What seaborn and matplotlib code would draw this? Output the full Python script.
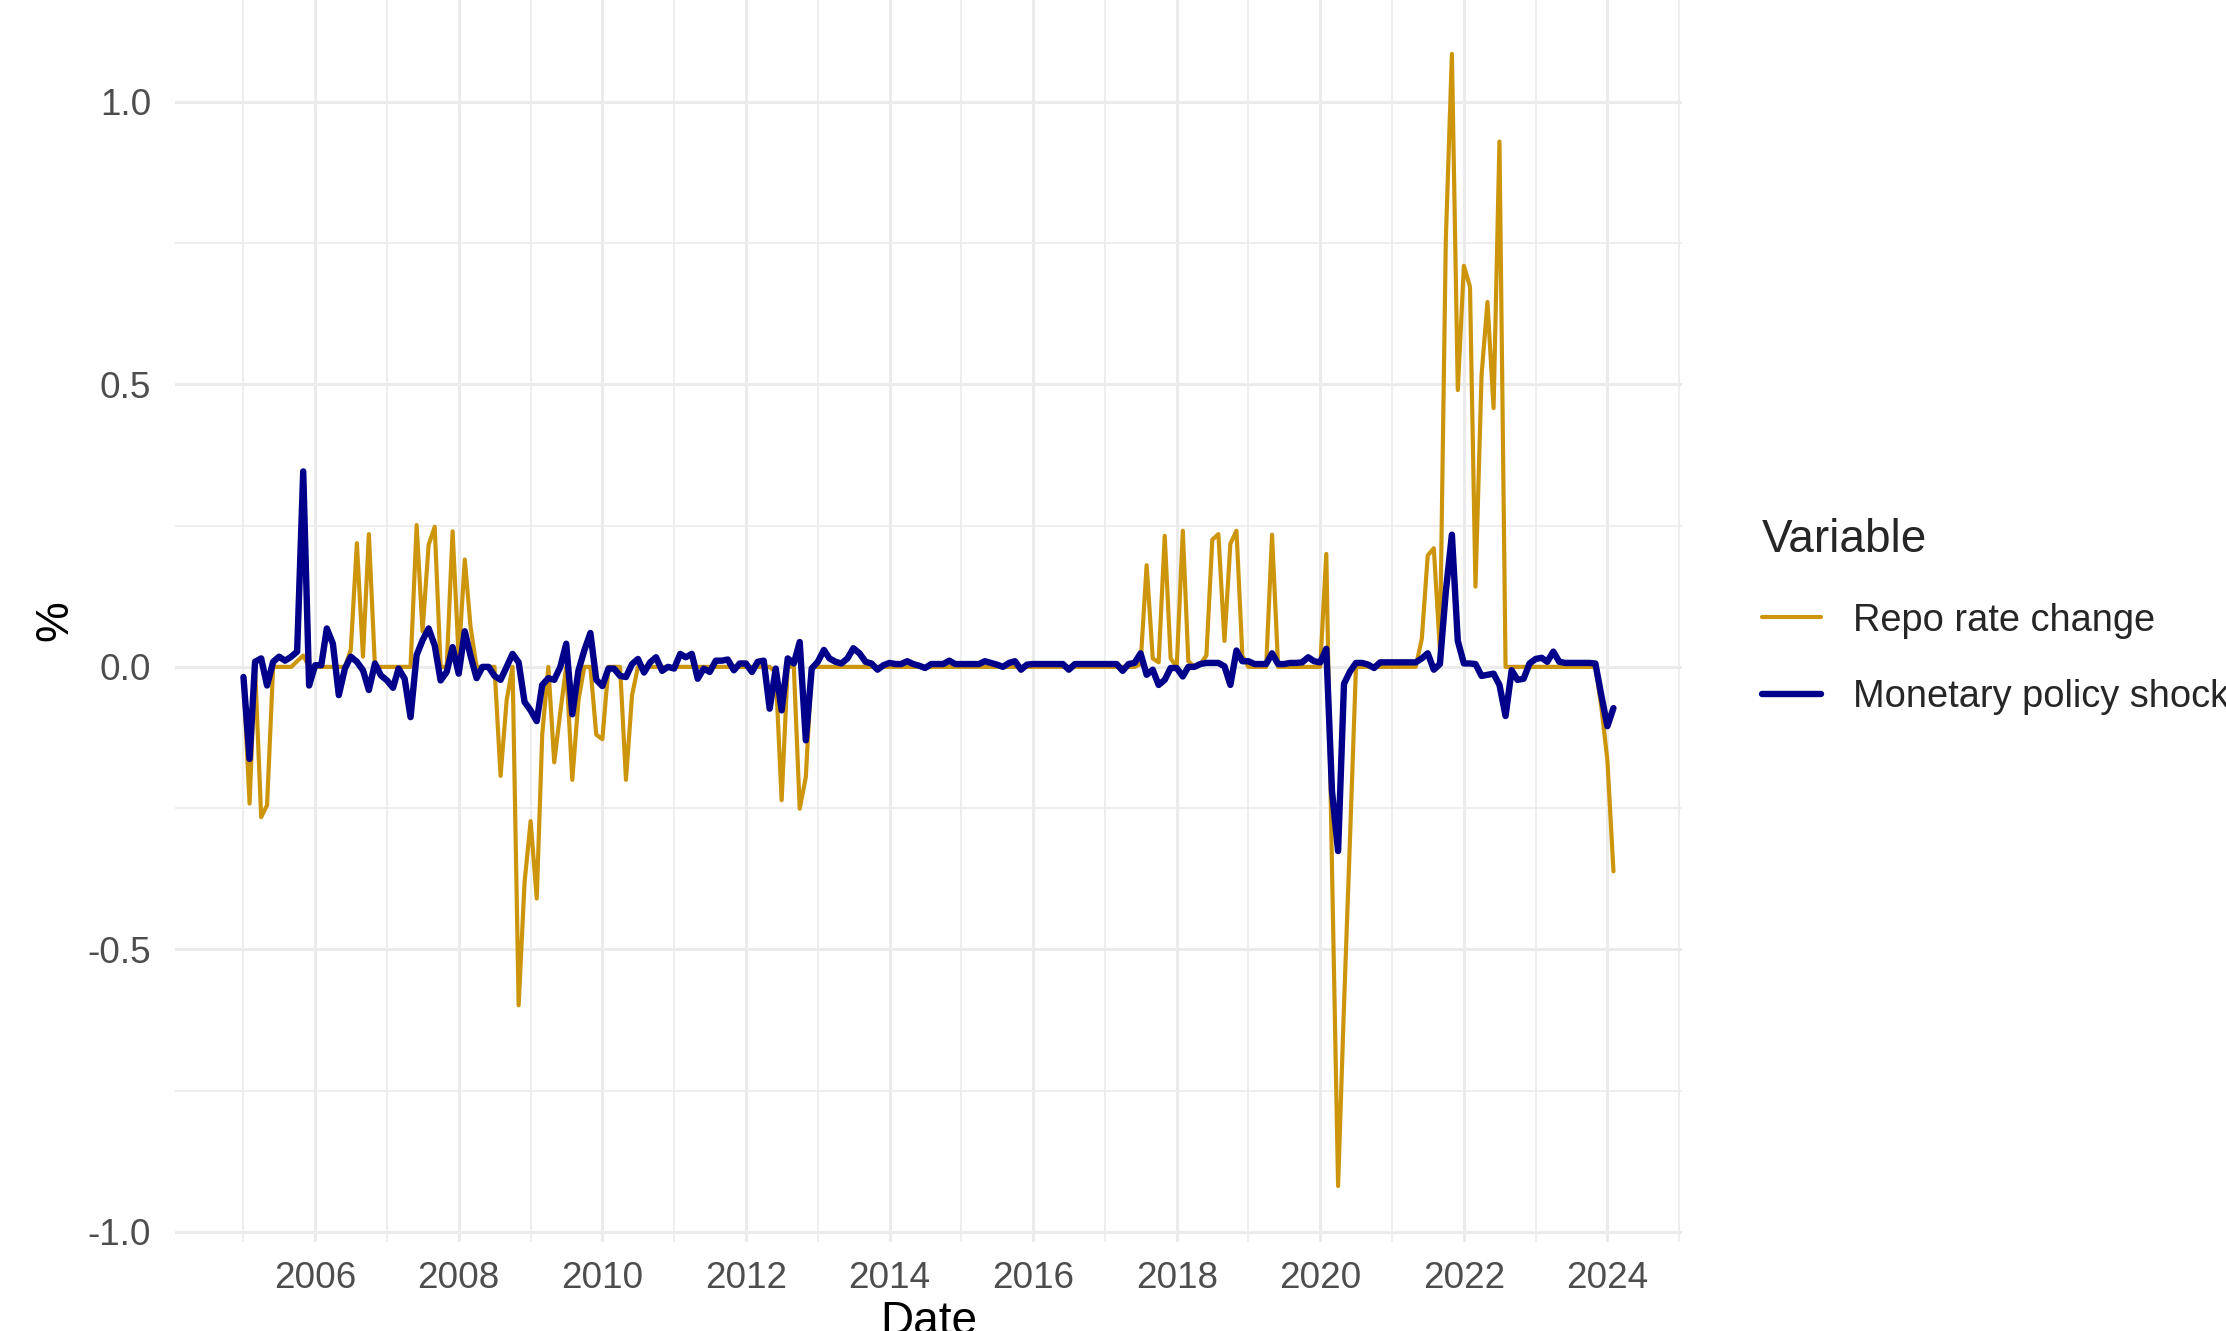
import pandas as pd
import matplotlib
matplotlib.use('Agg')
import matplotlib.pyplot as plt
import matplotlib.dates as mdates
from matplotlib.ticker import MultipleLocator, FormatStrFormatter
import seaborn as sns

# Monthly observations, Jan 2005 - Feb 2024 (one row of the list = one year)
start_month = '2005-01-01'

repo_rate_change = [
    -0.02, -0.242, 0.0, -0.266, -0.245, 0.0, 0.0, 0.0, 0.0, 0.01, 0.02, 0.0,          # 2005
    0.0, 0.0, 0.0, 0.0, 0.0, 0.0, 0.03, 0.219, 0.018, 0.235, 0.0, 0.0,                # 2006
    0.0, 0.0, 0.0, 0.0, 0.0, 0.251, 0.063, 0.216, 0.248, 0.0, 0.0, 0.24,              # 2007
    0.015, 0.19, 0.072, 0.0, 0.0, 0.0, 0.0, -0.193, -0.059, 0.0, -0.599, -0.382,      # 2008
    -0.273, -0.41, -0.12, 0.0, -0.169, -0.08, 0.0, -0.2, -0.06, 0.0, 0.0, -0.12,      # 2009
    -0.128, 0.0, 0.0, 0.0, -0.2, -0.05, 0.0, 0.0, 0.0, 0.0, 0.0, 0.0,                 # 2010
    0.0, 0.0, 0.0, 0.0, 0.0, 0.0, 0.0, 0.0, 0.0, 0.0, 0.0, 0.0,                       # 2011
    0.0, 0.0, 0.0, 0.0, 0.0, -0.01, -0.236, 0.0, 0.0, -0.251, -0.195, 0.0,            # 2012
    0.0, 0.0, 0.0, 0.0, 0.0, 0.0, 0.0, 0.0, 0.0, 0.0, 0.0, 0.0,                       # 2013
    0.0, 0.0, 0.0, 0.0, 0.0, 0.0, 0.0, 0.0, 0.0, 0.0, 0.0, 0.0,                       # 2014
    0.0, 0.0, 0.0, 0.0, 0.0, 0.0, 0.0, 0.0, 0.0, 0.0, 0.0, 0.0,                       # 2015
    0.0, 0.0, 0.0, 0.0, 0.0, 0.0, 0.0, 0.0, 0.0, 0.0, 0.0, 0.0,                       # 2016
    0.0, 0.0, 0.0, 0.0, 0.0, 0.0, 0.005, 0.18, 0.015, 0.008, 0.232, 0.015,            # 2017
    0.0, 0.241, 0.01, 0.0, 0.005, 0.02, 0.225, 0.235, 0.046, 0.218, 0.241, 0.02,      # 2018
    0.0, 0.0, 0.0, 0.0, 0.234, 0.0, 0.0, 0.0, 0.0, 0.0, 0.0, 0.0,                     # 2019
    0.0, 0.2, -0.355, -0.919, -0.6, -0.3, 0.0, 0.0, 0.0, 0.0, 0.0, 0.0,               # 2020
    0.0, 0.0, 0.0, 0.0, 0.0, 0.05, 0.197, 0.21, 0.03, 0.755, 1.085, 0.49,             # 2021
    0.71, 0.673, 0.142, 0.517, 0.646, 0.458, 0.93, 0.0, 0.0, 0.0, 0.0, 0.0,           # 2022
    0.0, 0.0, 0.0, 0.0, 0.0, 0.0, 0.0, 0.0, 0.0, 0.0, 0.0, -0.07,                     # 2023
    -0.165, -0.362,                                                                   # 2024
]

policy_shock = [
    -0.018, -0.163, 0.009, 0.015, -0.033, 0.009, 0.018, 0.011, 0.018, 0.027, 0.346, -0.033,   # 2005
    0.003, 0.003, 0.068, 0.041, -0.05, -0.003, 0.018, 0.009, -0.006, -0.041, 0.006, -0.015,   # 2006
    -0.024, -0.037, -0.003, -0.021, -0.089, 0.021, 0.047, 0.068, 0.038, -0.024, -0.009, 0.035,  # 2007
    -0.012, 0.063, 0.02, -0.02, 0.0, 0.0, -0.016, -0.023, 0.0, 0.023, 0.008, -0.062,         # 2008
    -0.077, -0.096, -0.032, -0.02, -0.023, 0.0, 0.041, -0.084, -0.007, 0.029, 0.06, -0.023,   # 2009
    -0.034, -0.003, -0.003, -0.016, -0.018, 0.005, 0.014, -0.01, 0.008, 0.017, -0.007, 0.0,   # 2010
    -0.003, 0.023, 0.017, 0.023, -0.021, -0.003, -0.009, 0.011, 0.011, 0.013, -0.006, 0.006,  # 2011
    0.006, -0.009, 0.009, 0.011, -0.074, -0.003, -0.077, 0.015, 0.006, 0.044, -0.13, -0.003,  # 2012
    0.009, 0.03, 0.015, 0.009, 0.006, 0.015, 0.033, 0.024, 0.009, 0.006, -0.005, 0.003,      # 2013
    0.007, 0.005, 0.005, 0.01, 0.005, 0.002, -0.002, 0.005, 0.005, 0.005, 0.011, 0.005,      # 2014
    0.005, 0.005, 0.005, 0.005, 0.01, 0.007, 0.004, 0.0, 0.007, 0.01, -0.005, 0.004,         # 2015
    0.005, 0.005, 0.005, 0.005, 0.005, 0.005, -0.005, 0.005, 0.005, 0.005, 0.005, 0.005,     # 2016
    0.005, 0.005, 0.005, -0.007, 0.005, 0.007, 0.024, -0.014, -0.005, -0.032, -0.023, -0.002,  # 2017
    -0.002, -0.017, 0.0, 0.0, 0.005, 0.007, 0.007, 0.007, 0.001, -0.032, 0.029, 0.01,       # 2018
    0.01, 0.005, 0.005, 0.005, 0.024, 0.005, 0.005, 0.007, 0.007, 0.008, 0.017, 0.01,       # 2019
    0.008, 0.032, -0.22, -0.326, -0.03, -0.008, 0.007, 0.007, 0.004, -0.002, 0.008, 0.008,   # 2020
    0.008, 0.008, 0.008, 0.008, 0.008, 0.015, 0.024, -0.005, 0.005, 0.133, 0.234, 0.046,    # 2021
    0.006, 0.006, 0.005, -0.016, -0.014, -0.012, -0.032, -0.087, -0.006, -0.023, -0.021, 0.006,  # 2022
    0.014, 0.016, 0.009, 0.027, 0.009, 0.007, 0.007, 0.007, 0.007, 0.007, 0.006, -0.05,     # 2023
    -0.105, -0.073,                                                                          # 2024
]

series_names = ['Repo rate change', 'Monetary policy shock']
series_colors = ['#CD950C', '#00008B']
series_widths = [1.5, 2.3]

dates = pd.date_range(start_month, periods=len(repo_rate_change), freq='MS')
df = pd.DataFrame({'Date': dates,
                   'Repo rate change': repo_rate_change,
                   'Monetary policy shock': policy_shock})
long_df = df.melt(id_vars='Date', var_name='Variable', value_name='value')

sns.set_style('white')
plt.rcParams['font.family'] = ['Liberation Sans', 'DejaVu Sans']
plt.rcParams['axes.unicode_minus'] = False

fig = plt.figure(figsize=(11.13, 6.655), dpi=200)
ax = fig.add_axes([0.0786, 0.0669, 0.677, 0.9331])

sns.lineplot(data=long_df, x='Date', y='value', hue='Variable', size='Variable',
             hue_order=series_names, size_order=series_names,
             palette=dict(zip(series_names, series_colors)),
             sizes=dict(zip(series_names, series_widths)),
             errorbar=None, ax=ax)

# ggplot-like expansion of 5% on the date axis
span = dates[-1] - dates[0]
ax.set_xlim(dates[0] - span * 0.05, dates[-1] + span * 0.05)
ax.set_ylim(-1.018, 1.1805)

ax.xaxis.set_major_locator(mdates.YearLocator(2))
ax.xaxis.set_minor_locator(mdates.YearLocator(1))
ax.xaxis.set_major_formatter(mdates.DateFormatter('%Y'))
ax.yaxis.set_major_locator(MultipleLocator(0.5))
ax.yaxis.set_minor_locator(MultipleLocator(0.25))
ax.yaxis.set_major_formatter(FormatStrFormatter('%.1f'))

ax.set_axisbelow(True)
ax.grid(which='major', color='#EBEBEB', linewidth=1.1)
ax.grid(which='minor', color='#EBEBEB', linewidth=0.6)
ax.tick_params(which='both', length=0, labelsize=13.3, labelcolor='#4D4D4D')
ax.tick_params(axis='x', pad=6.8)
ax.tick_params(axis='y', pad=8.5)
for s in ax.spines.values():
    s.set_visible(False)

ax.set_xlabel('Date', fontsize=16.5, color='black')
ax.set_ylabel('%', fontsize=16.5, color='black')
ax.xaxis.set_label_coords(0.5, -0.047)
ax.yaxis.set_label_coords(-0.065, 0.5)

sns.move_legend(ax, 'upper left', bbox_to_anchor=(1.053, 0.583), frameon=False,
                title='Variable', fontsize=13.7, title_fontsize=16.5,
                handlelength=1.55, handletextpad=0.84, labelspacing=1.07,
                borderpad=0, borderaxespad=0, alignment='left')

fig.savefig('out.png', dpi=200)
